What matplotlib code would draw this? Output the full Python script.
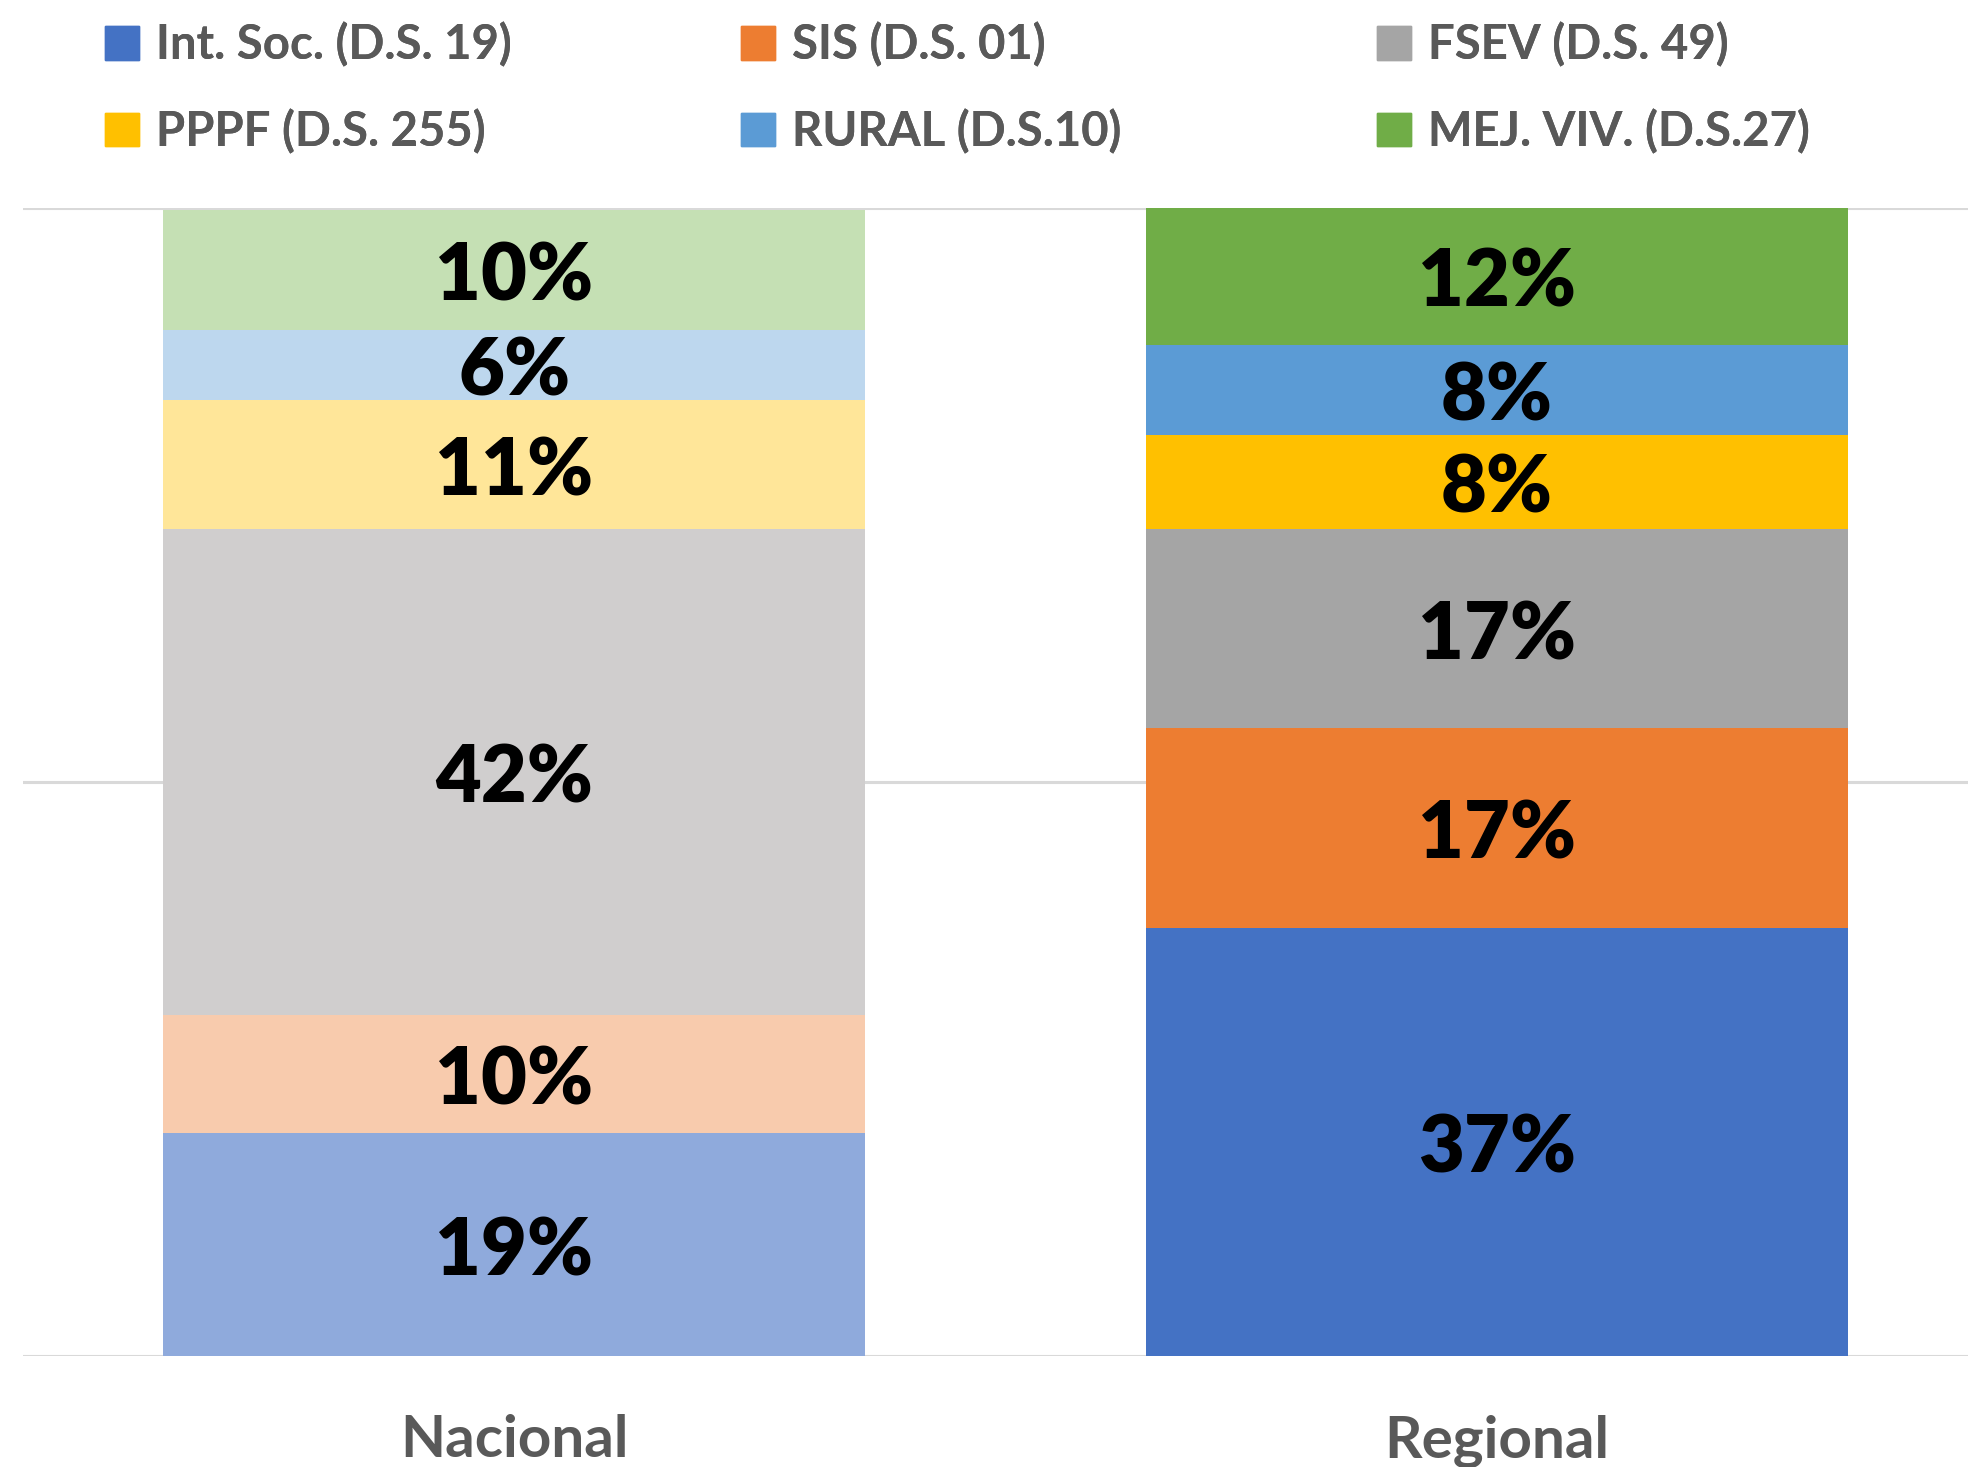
import matplotlib.pyplot as plt
import numpy as np

# data (percent of total)
categories = ["Nacional", "Regional"]
series = ["Int. Soc. (D.S. 19)", "SIS (D.S. 01)", "FSEV (D.S. 49)",
          "PPPF (D.S. 255)", "RURAL (D.S.10)", "MEJ. VIV. (D.S.27)"]
nacional = [19.4, 10.3, 42.3, 11.3, 6.1, 10.4]
regional = [37.3, 17.4, 17.3, 8.2, 7.9, 11.9]

colors_reg = ["#4472C4", "#ED7D31", "#A5A5A5", "#FFC000", "#5B9BD5", "#70AD47"]
colors_nac = ["#8FAADC", "#F8CBAD", "#D0CECE", "#FFE699", "#BDD7EE", "#C5E0B4"]

plt.rcParams['font.family'] = ['Lato', 'DejaVu Sans']

fig = plt.figure(figsize=(19.68, 14.67), dpi=100)
ax = fig.add_axes([23 / 1968, 1 - 1356 / 1467, 1965 / 1968, (1356 - 208) / 1467])

x = np.arange(len(categories))
bw = 0.715
bottoms = np.zeros(2)
handles = []
for i, name in enumerate(series):
    vals = np.array([nacional[i], regional[i]])
    ax.bar(x, vals, bw, bottom=bottoms, color=[colors_nac[i], colors_reg[i]], zorder=2)
    for xi, v, b in zip(x, vals, bottoms):
        ax.annotate(f"{v:.0f}%", (xi, b + v / 2), xytext=(0, -5),
                    textcoords="offset points", ha="center", va="center",
                    fontsize=57, fontweight="heavy", color="black", zorder=3)
    bottoms += vals
    handles.append(plt.Rectangle((0, 0), 1, 1, color=colors_reg[i], label=name))

ax.set_xlim(-0.5, 1.5)
ax.set_ylim(0, 100)
ax.set_yticks([0, 50, 100])
ax.set_yticklabels([])
ax.tick_params(axis="y", length=0)
ax.grid(axis="y", color="#D9D9D9", linewidth=2.2, zorder=0)
ax.set_xticks(x)
ax.set_xticklabels(categories, fontsize=42, fontweight="bold", color="#595959")
ax.tick_params(axis="x", length=0, pad=42)
for s in ax.spines.values():
    s.set_visible(False)

# legend: three columns, filled row by row
col_x = [105 / 1968, 741 / 1968, 1377 / 1968]
for j, cx in enumerate(col_x):
    leg = fig.legend(handles=[handles[j], handles[j + 3]], loc="upper left",
                     bbox_to_anchor=(cx, 0.985), ncol=1, frameon=False,
                     prop={"weight": "bold", "size": 34}, labelcolor="#595959",
                     handlelength=0.72, handleheight=0.72, handletextpad=0.35,
                     labelspacing=0.88, borderpad=0, borderaxespad=0)
    fig.add_artist(leg)

fig.savefig("out.png", dpi=100)
